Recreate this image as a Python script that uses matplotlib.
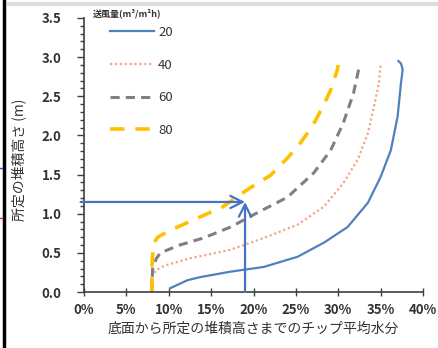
import matplotlib.pyplot as plt
from matplotlib.ticker import MultipleLocator, FuncFormatter
from matplotlib.lines import Line2D

plt.rcParams['font.family'] = ['Noto Sans CJK JP', 'DejaVu Sans']

# moisture (fraction) vs height (m), one pair per air flow rate
x20 = [0.102, 0.122, 0.137, 0.173, 0.212, 0.252, 0.283, 0.311, 0.335, 0.350, 0.362,
       0.370, 0.374, 0.376, 0.374, 0.371]
y20 = [0.05, 0.15, 0.19, 0.26, 0.32, 0.45, 0.63, 0.83, 1.14, 1.47, 1.81,
       2.24, 2.67, 2.84, 2.92, 2.95]
x40 = [0.080, 0.081, 0.085, 0.096, 0.125, 0.173, 0.212, 0.252, 0.283, 0.306, 0.323,
       0.335, 0.342, 0.348, 0.350]
y40 = [0.00, 0.20, 0.28, 0.34, 0.43, 0.54, 0.69, 0.86, 1.09, 1.39, 1.69,
       2.03, 2.36, 2.67, 2.92]
x60 = [0.080, 0.081, 0.085, 0.090, 0.113, 0.141, 0.173, 0.204, 0.240, 0.271, 0.291,
       0.306, 0.318, 0.324]
y60 = [0.00, 0.30, 0.42, 0.50, 0.60, 0.69, 0.83, 1.01, 1.21, 1.52, 1.81,
       2.16, 2.54, 2.84]
x80 = [0.080, 0.080, 0.082, 0.087, 0.102, 0.125, 0.164, 0.196, 0.220, 0.240, 0.255,
       0.269, 0.281, 0.291, 0.299, 0.300]
y80 = [0.00, 0.30, 0.62, 0.70, 0.79, 0.90, 1.09, 1.33, 1.49, 1.71, 1.90,
       2.11, 2.35, 2.58, 2.84, 2.90]

flow_labels = ['20', '40', '60', '80']
arrow_x = 0.19
arrow_y = 1.15

fig = plt.figure(figsize=(4.39, 3.48), dpi=100)
ax = fig.add_axes([0.1913, 0.1609, 0.7723, 0.7874])

styles = [
    dict(color='#4f81bd', lw=1.6, linestyle='-'),
    dict(color='#f4a582', lw=1.6, linestyle=(0, (1, 1.2))),
    dict(color='#808080', lw=2.2, linestyle=(0, (3, 2))),
    dict(color='#ffc000', lw=2.6, linestyle=(0, (4, 3))),
]
for xs, ys, st in zip([x20, x40, x60, x80], [y20, y40, y60, y80], styles):
    ax.plot(xs, ys, **st)

# arrows
ax.annotate('', xy=(arrow_x, arrow_y), xytext=(-0.004, arrow_y),
            arrowprops=dict(arrowstyle='->', color='#4472c4', lw=1.6, mutation_scale=22,
                            shrinkA=0, shrinkB=0), annotation_clip=False)
ax.annotate('', xy=(arrow_x, arrow_y), xytext=(arrow_x, 0),
            arrowprops=dict(arrowstyle='->', color='#4472c4', lw=1.6, mutation_scale=22,
                            shrinkA=0, shrinkB=0))

ax.set_xlim(0, 0.40)
ax.set_ylim(0, 3.5)
ax.xaxis.set_major_locator(MultipleLocator(0.05))
ax.xaxis.set_major_formatter(FuncFormatter(lambda v, p: f'{v*100:.0f}%'))
ax.yaxis.set_major_locator(MultipleLocator(0.5))
ax.yaxis.set_minor_locator(MultipleLocator(0.1))
ax.yaxis.set_major_formatter(FuncFormatter(lambda v, p: f'{v:.1f}'))

for s in ['top', 'right']:
    ax.spines[s].set_visible(False)
for s in ['left', 'bottom']:
    ax.spines[s].set_color('#404040')
    ax.spines[s].set_linewidth(1.2)

ax.tick_params(axis='x', direction='inout', length=6, width=1, colors='#404040',
               labelsize=9.5, pad=5)
ax.tick_params(axis='y', which='major', direction='out', length=5, width=1,
               colors='#404040', labelsize=9.5, pad=11)
ax.tick_params(axis='y', which='minor', direction='out', length=3, width=1, colors='#404040')
for lab in ax.get_xticklabels() + ax.get_yticklabels():
    lab.set_color('#333333')
    lab.set_fontweight('bold')

ax.set_xlabel('底面から所定の堆積高さまでのチップ平均水分', fontsize=10, color='#333333',
              labelpad=3)
fig.text(0.043, 0.54, '所定の堆積高さ (m)', rotation=90, fontsize=10, color='#333333',
         ha='center', va='center')

fig.text(0.212, 0.963, '送風量(m³/m²h)', fontsize=6.5, fontweight='bold', color='#333333',
         ha='left', va='center')
handles = [Line2D([], [], **st) for st in styles]
leg = fig.legend(handles, flow_labels, loc='upper left', bbox_to_anchor=(0.2506, 0.925),
                 frameon=False, fontsize=9.5, borderpad=0, borderaxespad=0,
                 handlelength=3.3, handletextpad=0.35, labelspacing=1.48)
for t in leg.get_texts():
    t.set_color('#333333')

# frame remnants of the screenshot
fig.add_artist(Line2D([0.008, 0.008], [0, 1], color='black', lw=2.5))
fig.add_artist(Line2D([0.02, 1], [0.988, 0.988], color='#dddddd', lw=3))
fig.add_artist(Line2D([0, 0.005], [0.517, 0.517], color='#3050d0', lw=1))
fig.add_artist(Line2D([0, 0.005], [0.374, 0.374], color='#e03030', lw=1))

fig.savefig('out.png', dpi=100)
